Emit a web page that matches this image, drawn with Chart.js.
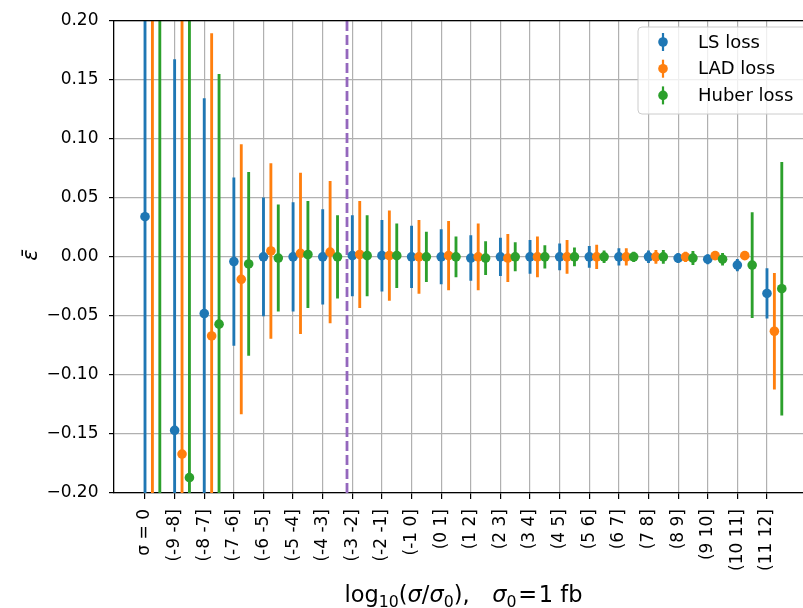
<!DOCTYPE html>
<html>
<head>
<meta charset="utf-8">
<script src="https://cdn.jsdelivr.net/npm/chart.js@4.4.1/dist/chart.umd.min.js"></script>
<style>
html,body{margin:0;padding:0;background:#fff;overflow:hidden;width:803px;height:608px}
#wrap{position:relative;width:840px;height:608px}
</style>
</head>
<body>
<div id="wrap"><canvas id="c" width="840" height="608"></canvas></div>
<script>
// ---- data ----
const categories = ["σ = 0","(-9 -8]","(-8 -7]","(-7 -6]","(-6 -5]","(-5 -4]","(-4 -3]","(-3 -2]","(-2 -1]","(-1 0]","(0 1]","(1 2]","(2 3]","(3 4]","(4 5]","(5 6]","(6 7]","(7 8]","(8 9]","(9 10]","(10 11]","(11 12]"];
const seriesNames = ["LS loss", "LAD loss", "Huber loss"];
const lsMean  = [0.034, -0.147, -0.048, -0.004, 0.000, 0.000, 0.000, 0.001, 0.001, 0.000, 0.000, -0.001, 0.000, 0.000, 0.000, 0.000, 0.000, 0.000, -0.001, -0.002, -0.007, -0.031];
const lsErr   = [0.45, 0.314, 0.182, 0.071, 0.050, 0.046, 0.040, 0.034, 0.030, 0.026, 0.023, 0.019, 0.016, 0.014, 0.011, 0.009, 0.007, 0.005, 0.004, 0.004, 0.005, 0.021];
const ladMean = [0.30, -0.167, -0.067, -0.019, 0.005, 0.003, 0.004, 0.002, 0.001, 0.000, 0.001, 0.000, -0.001, 0.000, 0.000, 0.000, 0.000, 0.000, 0.000, 0.001, 0.001, -0.063];
const ladErr  = [0.55, 0.45, 0.256, 0.114, 0.074, 0.068, 0.060, 0.045, 0.038, 0.031, 0.029, 0.028, 0.020, 0.017, 0.014, 0.010, 0.007, 0.0055, 0.004, 0.002, 0.001, 0.049];
const hubMean = [0.35, -0.187, -0.057, -0.006, -0.001, 0.002, 0.000, 0.001, 0.001, 0.000, 0.000, -0.001, 0.000, 0.000, 0.000, 0.000, 0.000, 0.000, -0.001, -0.002, -0.007, -0.027];
const hubErr  = [0.6, 0.45, 0.2115, 0.0775, 0.045, 0.045, 0.035, 0.034, 0.027, 0.021, 0.017, 0.014, 0.012, 0.0095, 0.0076, 0.005, 0.004, 0.0055, 0.0056, 0.005, 0.0445, 0.107];
const thresholdX = 6.82;       // dashed vertical line position (category units)
const yTicks = [-0.20, -0.15, -0.10, -0.05, 0.00, 0.05, 0.10, 0.15, 0.20];

// ---- styling ----
const colors = ["#1f77b4", "#ff7f0e", "#2ca02c"];
const offsets = [0, 0.25, 0.5];
const means = [lsMean, ladMean, hubMean];
const errs = [lsErr, ladErr, hubErr];

Chart.defaults.font.family = "'DejaVu Sans', sans-serif";
Chart.defaults.color = "#000";

const datasets = [];
datasets.push({
  type: 'line', label: 'threshold',
  data: [{x: thresholdX, y: yTicks[0]}, {x: thresholdX, y: yTicks[yTicks.length - 1]}],
  borderColor: '#9467bd', borderWidth: 2.8, borderDash: [10, 4], pointRadius: 0, order: 20
});
seriesNames.forEach((name, k) => {
  datasets.push({
    type: 'bar', label: name + ' err',
    data: categories.map((c, i) => ({x: i + offsets[k], y: [means[k][i] - errs[k][i], means[k][i] + errs[k][i]]})),
    backgroundColor: colors[k], borderWidth: 0, barThickness: 2.2, grouped: false,
    order: 10 - 2 * k
  });
  datasets.push({
    type: 'scatter', label: name,
    data: categories.map((c, i) => ({x: i + offsets[k], y: means[k][i]})),
    backgroundColor: colors[k], borderWidth: 0, pointRadius: 4.8, pointHoverRadius: 4.8,
    order: 9 - 2 * k
  });
});

function drawSegments(ctx, segs, cx, baseline, size) {
  let total = 0;
  const items = segs.map(s => {
    const fs = s.sub ? size * 0.7 : size;
    ctx.font = (s.it ? 'italic ' : '') + fs + "px 'DejaVu Sans'";
    const w = ctx.measureText(s.t).width;
    const it = {s, fs, w, gap: (s.gap || 0) * size};
    total += w + it.gap;
    return it;
  });
  let x = cx - total / 2;
  ctx.textAlign = 'left';
  ctx.textBaseline = 'alphabetic';
  items.forEach(it => {
    x += it.gap;
    ctx.font = (it.s.it ? 'italic ' : '') + it.fs + "px 'DejaVu Sans'";
    ctx.fillText(it.s.t, x, baseline + (it.s.sub ? size * 0.22 : 0));
    x += it.w;
  });
}

const decor = {
  id: 'decor',
  afterDraw(chart) {
    const ctx = chart.ctx, a = chart.chartArea;
    ctx.save();
    // top spine
    ctx.strokeStyle = '#000'; ctx.lineWidth = 1.3;
    ctx.beginPath(); ctx.moveTo(a.left, a.top); ctx.lineTo(a.right, a.top); ctx.stroke();

    // legend
    const lx = 638, ly = 27, lw = 172, lh = 87, r = 4;
    ctx.fillStyle = 'rgba(255,255,255,0.8)';
    ctx.strokeStyle = '#cccccc'; ctx.lineWidth = 1;
    ctx.beginPath();
    ctx.moveTo(lx + r, ly); ctx.lineTo(lx + lw - r, ly); ctx.quadraticCurveTo(lx + lw, ly, lx + lw, ly + r);
    ctx.lineTo(lx + lw, ly + lh - r); ctx.quadraticCurveTo(lx + lw, ly + lh, lx + lw - r, ly + lh);
    ctx.lineTo(lx + r, ly + lh); ctx.quadraticCurveTo(lx, ly + lh, lx, ly + lh - r);
    ctx.lineTo(lx, ly + r); ctx.quadraticCurveTo(lx, ly, lx + r, ly);
    ctx.closePath(); ctx.fill(); ctx.stroke();
    seriesNames.forEach((name, k) => {
      const y = 42 + k * 26.7;
      ctx.fillStyle = colors[k];
      ctx.fillRect(663 - 1.1, y - 9, 2.2, 18);
      ctx.beginPath(); ctx.arc(663, y, 4.8, 0, Math.PI * 2); ctx.fill();
      ctx.fillStyle = '#000';
      ctx.font = "18px 'DejaVu Sans'";
      ctx.textAlign = 'left'; ctx.textBaseline = 'middle';
      ctx.fillText(name, 698, y + 1);
    });

    // x title
    ctx.fillStyle = '#000';
    drawSegments(ctx, [
      {t: 'log'}, {t: '10', sub: true}, {t: '('}, {t: 'σ', it: true}, {t: '/'}, {t: 'σ', it: true},
      {t: '0', sub: true}, {t: '),'}, {t: 'σ', it: true, gap: 1.0}, {t: '0', sub: true},
      {t: '=', gap: 0.08}, {t: '1 fb', gap: 0.08}
    ], 463.5, 602, 22.5);

    // y title
    ctx.save();
    ctx.translate(37, 255);
    ctx.rotate(-Math.PI / 2);
    ctx.font = "italic 21px 'DejaVu Sans'";
    ctx.textAlign = 'center'; ctx.textBaseline = 'alphabetic';
    ctx.fillText('ε\u0304', 0, 0);
    ctx.restore();
    ctx.restore();
  }
};

new Chart(document.getElementById('c'), {
  type: 'scatter',
  data: {datasets},
  options: {
    responsive: false,
    animation: false,
    devicePixelRatio: 1,
    layout: {padding: {left: 0, right: 28, top: 17, bottom: 0}},
    plugins: {legend: {display: false}, tooltip: {enabled: false}},
    scales: {
      x: {
        type: 'linear', min: -1.047, max: 22.52, offset: false,
        afterBuildTicks: s => { s.ticks = categories.map((c, i) => ({value: i})); },
        afterFit: s => { s.height = 115; },
        ticks: {autoSkip: false, minRotation: 90, maxRotation: 90, padding: 10, color: '#000',
                font: {size: 17}, callback: v => categories[v] !== undefined ? categories[v] : ''},
        grid: {color: '#b0b0b0', lineWidth: 1.2, tickColor: '#000', tickLength: 6, offset: false},
        border: {color: '#000', width: 1.3}
      },
      y: {
        type: 'linear', min: -0.2, max: 0.2,
        afterBuildTicks: s => { s.ticks = yTicks.map(v => ({value: v})); },
        afterFit: s => { s.width = 114; },
        ticks: {color: '#000', font: {size: 17}, padding: 10.5,
                callback: v => (v < -1e-9 ? '\u2212' : '') + Math.abs(v).toFixed(2)},
        grid: {color: '#b0b0b0', lineWidth: 1.2, tickColor: '#000', tickLength: 5},
        border: {color: '#000', width: 1.3}
      }
    }
  },
  plugins: [decor]
});
</script>
</body>
</html>
